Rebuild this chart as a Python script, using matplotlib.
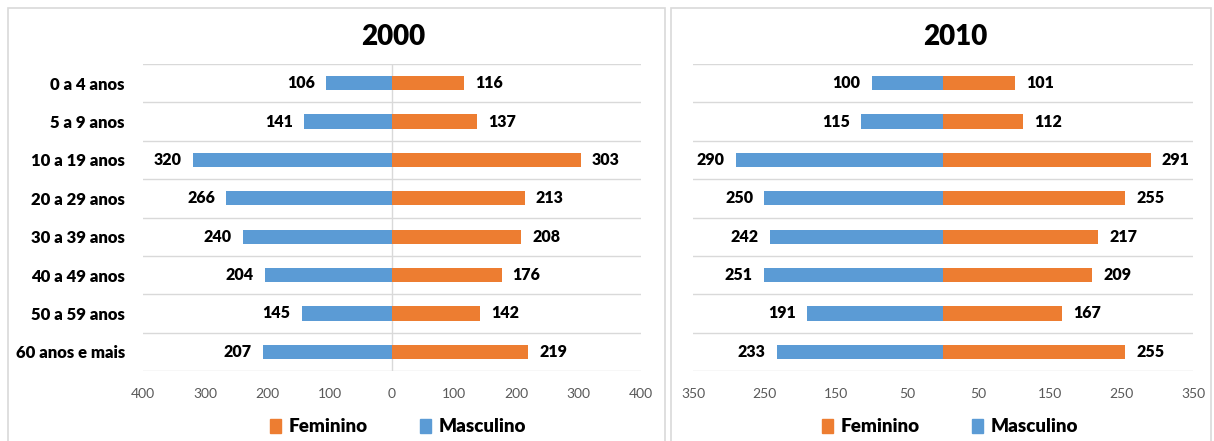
import matplotlib.pyplot as plt
from matplotlib.patches import Patch, Rectangle
from matplotlib.ticker import FuncFormatter

plt.rcParams["font.family"] = ["Lato", "DejaVu Sans"]

# Age groups, top to bottom.
age_groups = [
    "0 a 4 anos",
    "5 a 9 anos",
    "10 a 19 anos",
    "20 a 29 anos",
    "30 a 39 anos",
    "40 a 49 anos",
    "50 a 59 anos",
    "60 anos e mais",
]

# 2000
masc_2000 = [106, 141, 320, 266, 240, 204, 145, 207]
fem_2000 = [116, 137, 303, 213, 208, 176, 142, 219]

# 2010
masc_2010 = [100, 115, 290, 250, 242, 251, 191, 233]
fem_2010 = [101, 112, 291, 255, 217, 209, 167, 255]

ticks_2000 = [-400, -300, -200, -100, 0, 100, 200, 300, 400]
ticks_2010 = [-350, -250, -150, -50, 50, 150, 250, 350]

BLUE = "#5B9BD5"
ORANGE = "#ED7D31"
GRID = "#D9D9D9"
TICK = "#595959"
WEIGHT = "heavy"

W, H = 1214, 441
fig = plt.figure(figsize=(W / 100, H / 100), dpi=100)


def px_axes(x0, x1, y0, y1):
    """Axes from pixel box (top-left origin)."""
    return fig.add_axes([x0 / W, (H - y1) / H, (x1 - x0) / W, (y1 - y0) / H])


# Panel borders.
for x0, x1 in [(8, 665), (671, 1211)]:
    fig.patches.append(
        Rectangle((x0 / W, -0.01), (x1 - x0) / W, (H - 8) / H + 0.01,
                  transform=fig.transFigure, fill=False,
                  edgecolor=GRID, linewidth=1.2)
    )


def pyramid(ax, masc, fem, ticks, lim, show_labels, zero_line):
    y = list(range(len(age_groups)))
    bm = ax.barh(y, [-v for v in masc], height=0.37, color=BLUE)
    bf = ax.barh(y, fem, height=0.37, color=ORANGE)
    ax.bar_label(bm, labels=[str(v) for v in masc], padding=8,
                 fontsize=11.5, fontweight=WEIGHT)
    ax.bar_label(bf, labels=[str(v) for v in fem], padding=8,
                 fontsize=11.5, fontweight=WEIGHT)

    ax.set_xlim(-lim, lim)
    ax.set_ylim(len(age_groups) - 0.5, -0.5)
    for b in range(len(age_groups) + 1):
        ax.axhline(b - 0.5, color=GRID, linewidth=1.0, zorder=0)
    if zero_line:
        ax.axvline(0, color=GRID, linewidth=1.0, zorder=0)

    ax.set_xticks(ticks)
    ax.xaxis.set_major_formatter(FuncFormatter(lambda v, p: f"{abs(v):.0f}"))
    ax.tick_params(axis="x", length=0, pad=12, labelsize=10, labelcolor=TICK)
    ax.set_yticks(y)
    if show_labels:
        ax.set_yticklabels(age_groups, fontsize=12, fontweight=WEIGHT)
        ax.tick_params(axis="y", length=0, pad=13)
    else:
        ax.set_yticklabels([])
        ax.tick_params(axis="y", length=0)
    for s in ax.spines.values():
        s.set_visible(False)
    ax.set_facecolor("none")


ax1 = px_axes(143, 641, 64, 371)
pyramid(ax1, masc_2000, fem_2000, ticks_2000, 400, True, True)
ax2 = px_axes(693, 1193, 64, 371)
pyramid(ax2, masc_2010, fem_2010, ticks_2010, 350, False, False)

fig.text(393 / W, 1 - 37 / H, "2000", ha="center", va="center",
         fontsize=20, fontweight=WEIGHT)
fig.text(955 / W, 1 - 37 / H, "2010", ha="center", va="center",
         fontsize=20, fontweight=WEIGHT)

handles = [Patch(color=ORANGE, label="Feminino"),
           Patch(color=BLUE, label="Masculino")]
for cx in (398, 950):
    fig.legend(handles=handles, loc="center", ncol=2,
               bbox_to_anchor=(cx / W, 1 - 427 / H), frameon=False,
               prop={"size": 13.5, "weight": WEIGHT},
               handlelength=0.6, handleheight=0.7, handletextpad=0.4,
               columnspacing=2.8)

fig.savefig("out.png", dpi=100)
